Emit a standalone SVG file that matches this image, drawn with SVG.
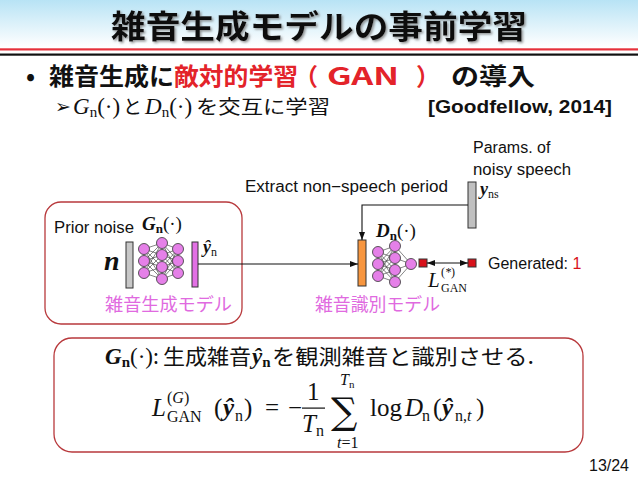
<svg xmlns="http://www.w3.org/2000/svg" width="638" height="479" viewBox="0 0 638 479">
<defs>
<linearGradient id="tg" x1="0" y1="0" x2="0" y2="1">
<stop offset="0" stop-color="#b8e3f5"/>
<stop offset="1" stop-color="#ffffff"/>
</linearGradient>
<filter id="sh" x="-5%" y="-20%" width="110%" height="150%">
<feDropShadow dx="1.5" dy="1.5" stdDeviation="1" flood-color="#777" flood-opacity="0.8"/>
</filter>
<marker id="ah" viewBox="0 0 8 6" refX="8" refY="3" markerWidth="8" markerHeight="6" markerUnits="userSpaceOnUse" orient="auto-start-reverse">
<path d="M0,0 L8,3 L0,6 z" fill="#111"/>
</marker>
<style>
.jp{font-family:"Noto Sans CJK JP","Noto Sans",sans-serif}
.sans{font-family:"Liberation Sans",Arial,sans-serif;font-size:16px;fill:#111}
.m{font-family:"Liberation Serif","Times New Roman",serif;fill:#111}
.it{font-style:italic}
.bi{font-style:italic;font-weight:bold}
.b{font-weight:bold}
.pink{fill:#e06ae0;font-size:18px}
.neu{fill:#e580e8;stroke:#333;stroke-width:0.8}
.syn{stroke:#333;stroke-width:0.6;fill:none}
.con{stroke:#111;stroke-width:1.1;fill:none}
.box{fill:none;stroke:#b8393c;stroke-width:1.3}
.bar{stroke:#333;stroke-width:1}
.hd{font-size:24px;font-weight:bold}
</style>
</defs>
<rect width="638" height="479" fill="#fff"/>
<g id="header">
<rect x="0" y="0" width="638" height="47" fill="url(#tg)"/>
<text x="319" y="38" text-anchor="middle" class="jp" font-size="32" font-weight="bold" fill="#111" filter="url(#sh)" textLength="416" lengthAdjust="spacingAndGlyphs">雑音生成モデルの事前学習</text>
<rect x="0" y="48.3" width="638" height="2.2" fill="#e5313b"/>
<rect x="0" y="53.5" width="638" height="2.2" fill="#111"/>
</g>
<g id="bullet">
<text x="26" y="84.5" class="jp hd" fill="#111">•</text>
<text x="49" y="84.5" class="jp hd" fill="#111" textLength="125" lengthAdjust="spacingAndGlyphs">雑音生成に</text>
<text x="174" y="84.5" class="jp hd" fill="#e3232a" textLength="124" lengthAdjust="spacingAndGlyphs">敵対的学習</text>
<text x="294" y="84.5" class="jp hd" fill="#e3232a">（</text>
<text x="327" y="84.5" class="jp hd" fill="#e3232a" textLength="72" lengthAdjust="spacingAndGlyphs">GAN</text>
<text x="416" y="84.5" class="jp hd" fill="#e3232a">）</text>
<text x="451" y="84.5" class="jp hd" fill="#111" textLength="84" lengthAdjust="spacingAndGlyphs">の導入</text>
</g>
<g id="subbullet">
<text x="55" y="113" font-family="DejaVu Sans,sans-serif" font-size="19" fill="#111">➢</text>
<text x="73" y="114" class="m" font-size="23"><tspan class="it">G</tspan><tspan font-size="15" dy="3">n</tspan><tspan dy="-3">(·)</tspan></text>
<text x="123" y="114" class="jp" font-size="19" fill="#111">と</text>
<text x="145" y="114" class="m" font-size="23"><tspan class="it">D</tspan><tspan font-size="15" dy="3">n</tspan><tspan dy="-3">(·)</tspan></text>
<text x="196" y="114" class="jp" font-size="19" fill="#111" textLength="134" lengthAdjust="spacingAndGlyphs">を交互に学習</text>
<text x="428" y="113" font-family="Liberation Sans,Arial,sans-serif" font-size="17.5" font-weight="bold" fill="#111" textLength="184" lengthAdjust="spacingAndGlyphs">[Goodfellow, 2014]</text>
</g>
<g id="generator">
<rect x="45" y="202" width="197" height="122" rx="16" class="box"/>
<text x="54" y="233" class="sans" textLength="80" lengthAdjust="spacingAndGlyphs">Prior noise</text>
<text x="142" y="230" class="m" font-size="19"><tspan class="bi">G</tspan><tspan class="b" font-size="13" dy="3">n</tspan><tspan dy="-3">(·)</tspan></text>
<text x="104" y="270" class="m bi" font-size="28">n</text>
<rect x="126" y="242" width="7" height="46" fill="#c8c8c8" class="bar"/>
<g class="syn">
<path d="M144,249L162,243M144,249L162,255M144,249L162,267M144,249L162,279M144,261L162,243M144,261L162,255M144,261L162,267M144,261L162,279M144,273L162,243M144,273L162,255M144,273L162,267M144,273L162,279"/>
<path d="M162,243L178,249M162,243L178,261M162,243L178,273M162,255L178,249M162,255L178,261M162,255L178,273M162,267L178,249M162,267L178,261M162,267L178,273M162,279L178,249M162,279L178,261M162,279L178,273"/>
</g>
<circle cx="144" cy="249" r="5.5" class="neu"/><circle cx="144" cy="261" r="5.5" class="neu"/><circle cx="144" cy="273" r="5.5" class="neu"/>
<circle cx="162" cy="243" r="5.5" class="neu"/><circle cx="162" cy="255" r="5.5" class="neu"/><circle cx="162" cy="267" r="5.5" class="neu"/><circle cx="162" cy="279" r="5.5" class="neu"/>
<circle cx="178" cy="249" r="5.5" class="neu"/><circle cx="178" cy="261" r="5.5" class="neu"/><circle cx="178" cy="273" r="5.5" class="neu"/>
<rect x="192" y="242" width="6" height="45" fill="#e270e4" class="bar"/>
<text x="203" y="253" class="m" font-size="18"><tspan class="bi">ŷ</tspan><tspan font-size="12" dy="3">n</tspan></text>
<text x="105" y="311" class="jp pink" textLength="127" lengthAdjust="spacingAndGlyphs">雑音生成モデル</text>
</g>
<g id="noisy-speech">
<text x="473" y="153" class="sans">Params. of</text>
<text x="473" y="175" class="sans" textLength="98" lengthAdjust="spacingAndGlyphs">noisy speech</text>
<rect x="468" y="182" width="8" height="46" fill="#c0c0c0" class="bar"/>
<text x="480" y="195" class="m" font-size="18"><tspan class="bi">y</tspan><tspan font-size="12" dy="3">ns</tspan></text>
</g>
<g id="extract-label">
<text x="245" y="192" class="sans" textLength="203" lengthAdjust="spacingAndGlyphs">Extract non−speech period</text>
</g>
<g id="discriminator">
<rect x="358" y="240" width="8" height="46" fill="#f7963f" class="bar"/>
<text x="376" y="237" class="m" font-size="19"><tspan class="bi">D</tspan><tspan class="b" font-size="13" dy="3">n</tspan><tspan dy="-3">(·)</tspan></text>
<g class="syn">
<path d="M378,252L395,246M378,252L395,258M378,252L395,270M378,252L395,282M378,264L395,246M378,264L395,258M378,264L395,270M378,264L395,282M378,276L395,246M378,276L395,258M378,276L395,270M378,276L395,282"/>
<path d="M395,246L411,264M395,258L411,264M395,270L411,264M395,282L411,264"/>
</g>
<circle cx="378" cy="252" r="5.5" class="neu"/><circle cx="378" cy="264" r="5.5" class="neu"/><circle cx="378" cy="276" r="5.5" class="neu"/>
<circle cx="395" cy="246" r="5.5" class="neu"/><circle cx="395" cy="258" r="5.5" class="neu"/><circle cx="395" cy="270" r="5.5" class="neu"/><circle cx="395" cy="282" r="5.5" class="neu"/>
<circle cx="411" cy="264" r="5.5" class="neu"/>
<text x="315" y="311" class="jp pink" textLength="125" lengthAdjust="spacingAndGlyphs">雑音識別モデル</text>
</g>
<g id="output">
<rect x="419" y="259" width="8" height="8" fill="#d8121b" class="bar"/>
</g>
<g id="target">
<rect x="468" y="259" width="8" height="8" fill="#d8121b" class="bar"/>
<text x="488" y="269" class="sans">Generated: <tspan fill="#d8121b">1</tspan></text>
</g>
<g id="loss-label">
<text x="428" y="287" class="m it" font-size="21">L</text>
<text x="441" y="276" class="m" font-size="12">(<tspan class="it">*</tspan>)</text>
<text x="441" y="292" class="m" font-size="12">GAN</text>
</g>
<g id="connectors">
<path d="M198,264 H358" class="con" marker-end="url(#ah)"/>
<path d="M468,205 H362 V240" class="con" marker-end="url(#ah)"/>
<path d="M427,263 H468" class="con" marker-start="url(#ah)" marker-end="url(#ah)"/>
</g>
<g id="formula-box">
<rect x="54" y="338" width="529" height="114" rx="18" class="box"/>
<text x="105" y="364" class="m" font-size="23"><tspan class="bi">G</tspan><tspan class="b" font-size="15" dy="3">n</tspan><tspan dy="-3">(·)</tspan></text>
<text x="153" y="364" class="jp" font-size="21" fill="#111">:</text>
<text x="163" y="364" class="jp" font-size="21" fill="#111" textLength="88" lengthAdjust="spacingAndGlyphs">生成雑音</text>
<text x="252" y="364" class="m" font-size="23"><tspan class="bi">ŷ</tspan><tspan class="b" font-size="15" dy="3">n</tspan></text>
<text x="272" y="364" class="jp" font-size="21" fill="#111" textLength="262" lengthAdjust="spacingAndGlyphs">を観測雑音と識別させる.</text>
<g class="m" font-size="25">
<text x="152" y="416" class="it">L</text>
<text x="167" y="403" font-size="16">(<tspan class="it">G</tspan>)</text>
<text x="167" y="422" font-size="16">GAN</text>
<text x="214" y="416">(</text>
<text x="223" y="416" class="bi">ŷ</text>
<text x="235" y="421" font-size="16">n</text>
<text x="244" y="416">)</text>
<text x="265" y="416">=</text>
<text x="288" y="416">−</text>
<text x="307" y="400">1</text>
<rect x="302" y="407.5" width="23" height="1.2" fill="#111"/>
<text x="302" y="432" class="it">T</text>
<text x="316" y="436" font-size="16">n</text>
<text x="331" y="424" font-family="DejaVu Serif,serif" font-size="37">∑</text>
<text x="340" y="385" font-size="16" class="it">T</text>
<text x="349" y="388" font-size="11">n</text>
<text x="337" y="448" font-size="16"><tspan class="it">t</tspan>=1</text>
<text x="370" y="416">log</text>
<text x="405" y="416" class="it">D</text>
<text x="422" y="421" font-size="16">n</text>
<text x="433" y="416">(</text>
<text x="442" y="416" class="bi">ŷ</text>
<text x="455" y="421" font-size="16">n,<tspan class="it">t</tspan></text>
<text x="476" y="416">)</text>
</g>
</g>
<g id="page">
<text x="589" y="471" class="sans" textLength="40" lengthAdjust="spacingAndGlyphs">13/24</text>
</g>
</svg>
